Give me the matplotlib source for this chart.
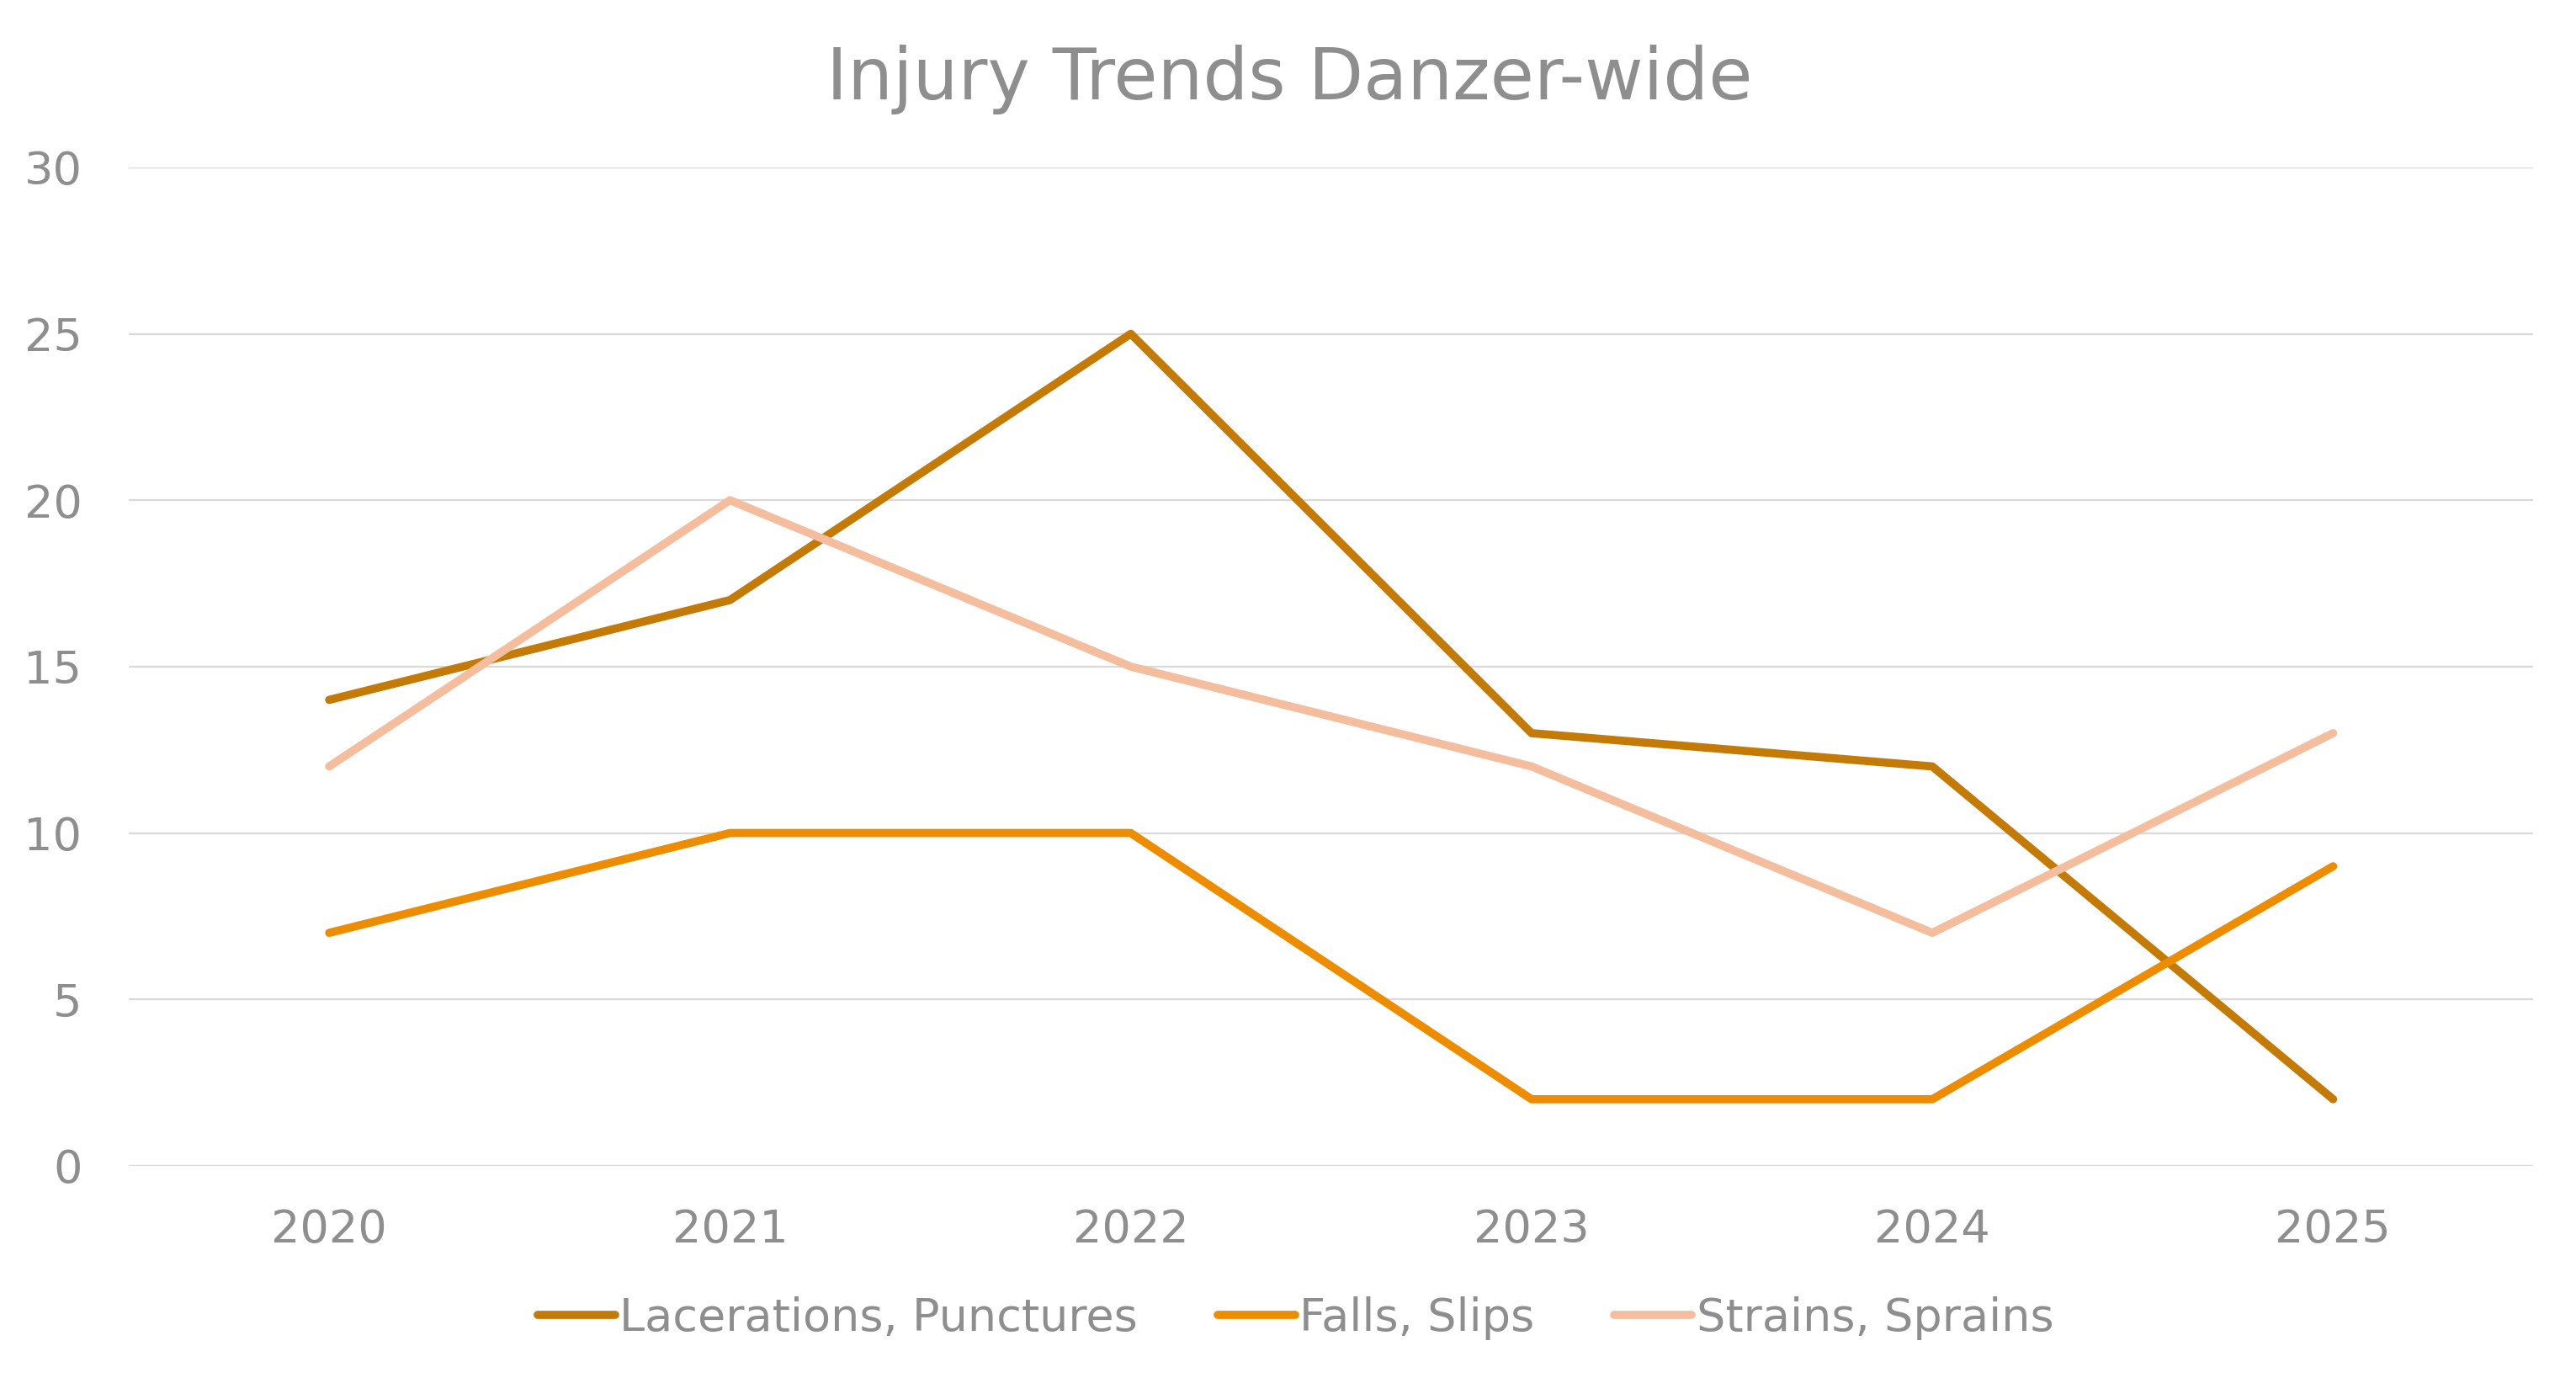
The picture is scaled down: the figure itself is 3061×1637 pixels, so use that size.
import matplotlib
matplotlib.use('Agg')
import matplotlib.pyplot as plt

# chart data
years = ['2020', '2021', '2022', '2023', '2024', '2025']
lacerations = [14, 17, 25, 13, 12, 2]
falls = [7, 10, 10, 2, 2, 9]
strains = [12, 20, 15, 12, 7, 13]
series_names = ['Lacerations, Punctures', 'Falls, Slips', 'Strains, Sprains']
yticks = [0, 5, 10, 15, 20, 25, 30]

txt_col = '#8E8E8E'
colors = ['#C47A06', '#EE8C00', '#F4BE9E']

plt.rcParams['font.family'] = ['DejaVu Sans']

fig = plt.figure(figsize=(3061 / 200, 1637 / 200), dpi=200)
ax = fig.add_axes([0.05, 0.154, 0.9335, 0.7245])

x = list(range(len(years)))
for vals, name, c in zip([lacerations, falls, strains], series_names, colors):
    ax.plot(x, vals, color=c, lw=3.5, label=name, solid_capstyle='round', solid_joinstyle='round')

ax.set_xlim(-0.5, len(years) - 0.5)
ax.set_ylim(0, 30)
ax.set_yticks(yticks)
ax.set_xticks(x)
ax.set_xticklabels(years)
ax.grid(axis='y', color='#D9D9D9', lw=0.8)
ax.set_axisbelow(True)
for s in ax.spines.values():
    s.set_visible(False)
ax.tick_params(length=0, labelsize=19.5, labelcolor=txt_col)
ax.tick_params(axis='y', pad=20)
ax.tick_params(axis='x', pad=18)

fig.text(0.5005, 0.942, 'Injury Trends Danzer-wide', ha='center', va='center',
         fontsize=30.6, color=txt_col)

leg = fig.legend(loc='center', bbox_to_anchor=(0.503, 0.0435), ncol=3, frameon=False,
                 fontsize=19.5, handlelength=1.7, handletextpad=0.1, columnspacing=1.75)
for t in leg.get_texts():
    t.set_color(txt_col)

fig.savefig('out.png', dpi=200)
